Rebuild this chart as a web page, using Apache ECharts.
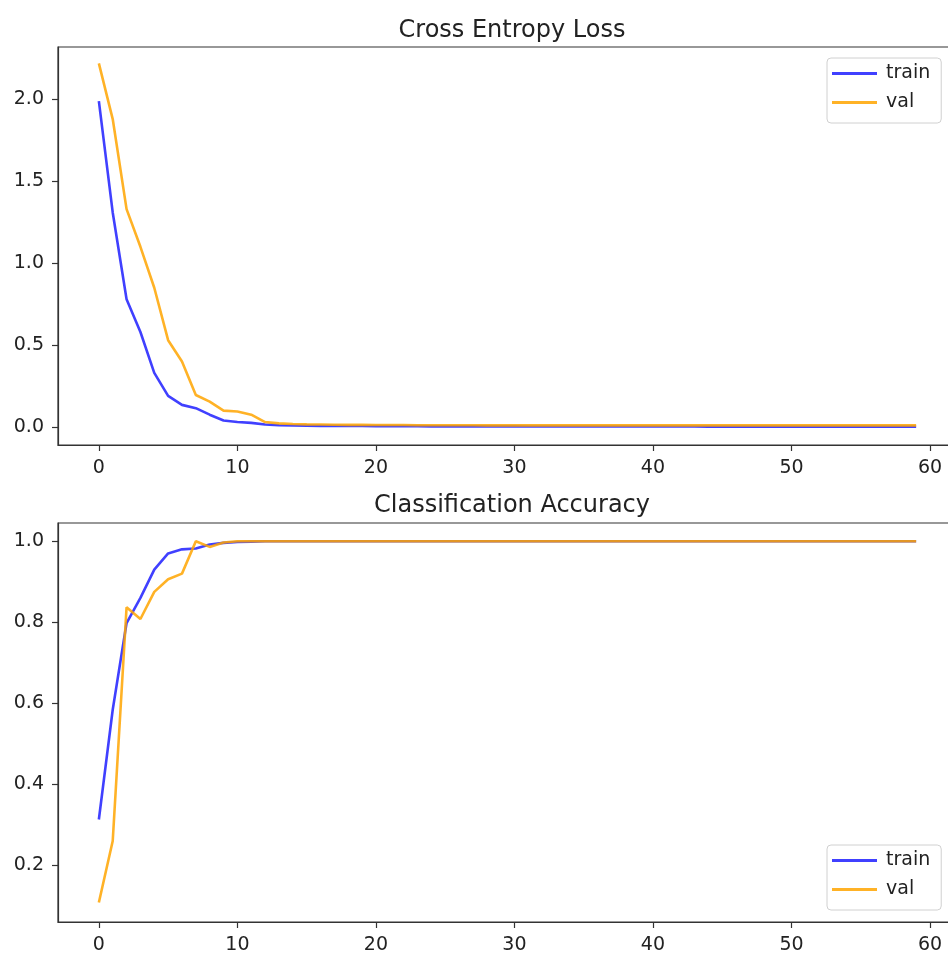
<!DOCTYPE html>
<html>
<head>
<meta charset="utf-8">
<script src="https://cdn.jsdelivr.net/npm/echarts@6/dist/echarts.min.js"></script>
<style>
  html, body { margin: 0; padding: 0; background: #fff; }
  #chart { width: 948px; height: 958px; }
</style>
</head>
<body>
<div id="chart"></div>
<script>
// epochs 0..59
var epochs = [];
for (var e = 0; e < 60; e++) epochs.push(e);

var xTicks = [0, 10, 20, 30, 40, 50, 60];
var lossTicks = [0, 0.5, 1.0, 1.5, 2.0];
var accTicks = [0.2, 0.4, 0.6, 0.8, 1.0];

var trainLoss = [
    1.99, 1.31, 0.78, 0.58, 0.33, 0.19, 0.135, 0.115, 0.075, 0.04,
    0.03, 0.025, 0.015, 0.011, 0.009, 0.008, 0.007, 0.007, 0.006, 0.006,
    0.005, 0.005, 0.005, 0.005, 0.004, 0.004, 0.004, 0.004, 0.004, 0.004,
    0.004, 0.003, 0.003, 0.003, 0.003, 0.003, 0.003, 0.003, 0.003, 0.003,
    0.003, 0.003, 0.003, 0.003, 0.002, 0.002, 0.002, 0.002, 0.002, 0.002,
    0.002, 0.002, 0.002, 0.002, 0.002, 0.002, 0.002, 0.002, 0.002, 0.002
];
var valLoss = [
    2.22, 1.88, 1.33, 1.10, 0.85, 0.53, 0.40, 0.195, 0.155, 0.10,
    0.095, 0.075, 0.03, 0.022, 0.018, 0.016, 0.015, 0.014, 0.013, 0.013,
    0.012, 0.012, 0.012, 0.011, 0.011, 0.011, 0.011, 0.011, 0.010, 0.010,
    0.010, 0.010, 0.010, 0.010, 0.010, 0.010, 0.010, 0.010, 0.010, 0.010,
    0.010, 0.010, 0.010, 0.010, 0.010, 0.010, 0.010, 0.010, 0.010, 0.010,
    0.010, 0.010, 0.010, 0.010, 0.010, 0.010, 0.010, 0.010, 0.010, 0.010
];
var trainAcc = [
    0.313, 0.584, 0.798, 0.86, 0.93, 0.97, 0.98, 0.982, 0.992, 0.996,
    0.998, 0.999, 1, 1, 1, 1, 1, 1, 1, 1,
    1, 1, 1, 1, 1, 1, 1, 1, 1, 1,
    1, 1, 1, 1, 1, 1, 1, 1, 1, 1,
    1, 1, 1, 1, 1, 1, 1, 1, 1, 1,
    1, 1, 1, 1, 1, 1, 1, 1, 1, 1
];
var valAcc = [
    0.108, 0.26, 0.837, 0.808, 0.875, 0.906, 0.92, 1.0, 0.986, 0.997,
    1, 1, 1, 1, 1, 1, 1, 1, 1, 1,
    1, 1, 1, 1, 1, 1, 1, 1, 1, 1,
    1, 1, 1, 1, 1, 1, 1, 1, 1, 1,
    1, 1, 1, 1, 1, 1, 1, 1, 1, 1,
    1, 1, 1, 1, 1, 1, 1, 1, 1, 1
];

var FONT = 'DejaVu Sans';
var BLUE = 'rgba(0, 0, 255, 0.75)';
var ORANGE = 'rgba(255, 165, 0, 0.85)';

function pairs(vals) {
    return epochs.map(function (x, i) { return [x, vals[i]]; });
}

function xAxisFor(gridIndex) {
    return {
        type: 'value', gridIndex: gridIndex, min: -2.95, max: 61.95,
        axisLine: { show: true, onZero: false, lineStyle: { color: '#333', width: 1.2 } },
        axisTick: { show: true, length: 6, customValues: xTicks, lineStyle: { color: '#333', width: 1.2 } },
        axisLabel: { customValues: xTicks, margin: 14, fontFamily: FONT, fontSize: 19, color: '#222' },
        splitLine: { show: false }
    };
}

function yAxisFor(gridIndex, min, max, ticks) {
    return {
        type: 'value', gridIndex: gridIndex, min: min, max: max,
        axisLine: { show: true, onZero: false, lineStyle: { color: '#333', width: 1.2 } },
        axisTick: { show: true, length: 6, customValues: ticks, lineStyle: { color: '#333', width: 1.2 } },
        axisLabel: {
            customValues: ticks, margin: 14, fontFamily: FONT, fontSize: 19, color: '#222',
            formatter: function (v) { return v.toFixed(1); }
        },
        splitLine: { show: false }
    };
}

function legendAt(top) {
    return {
        data: ['train', 'val'], orient: 'vertical', left: 827, top: top,
        icon: 'rect', itemWidth: 45, itemHeight: 3, itemGap: 10,
        padding: [6, 11, 11, 5],
        backgroundColor: 'rgba(255,255,255,0.8)', borderColor: '#d0d0d0', borderWidth: 1, borderRadius: 4,
        textStyle: { fontFamily: FONT, fontSize: 19, color: '#222', padding: [0, 0, 0, 4] }
    };
}

function lineSeries(name, vals, color, axisIndex) {
    return {
        name: name, type: 'line', xAxisIndex: axisIndex, yAxisIndex: axisIndex,
        data: pairs(vals), showSymbol: false, symbol: 'none',
        color: color, lineStyle: { color: color, width: 2.6 },
        animation: false
    };
}

var option = {
    animation: false,
    title: [
        { text: 'Cross Entropy Loss', left: 507, top: 14, textAlign: 'center',
          textStyle: { fontFamily: FONT, fontSize: 24, fontWeight: 'normal', color: '#222' } },
        { text: 'Classification Accuracy', left: 507, top: 489, textAlign: 'center',
          textStyle: { fontFamily: FONT, fontSize: 24, fontWeight: 'normal', color: '#222' } }
    ],
    grid: [
        { left: 58, top: 47, width: 899, height: 398, outerBoundsMode: 'none',
          show: true, borderColor: '#333', borderWidth: 1.2 },
        { left: 58, top: 523, width: 899, height: 399, outerBoundsMode: 'none',
          show: true, borderColor: '#333', borderWidth: 1.2 }
    ],
    legend: [legendAt(58), legendAt(845)],
    xAxis: [xAxisFor(0), xAxisFor(1)],
    yAxis: [
        yAxisFor(0, -0.11, 2.32, lossTicks),
        yAxisFor(1, 0.06, 1.045, accTicks)
    ],
    series: [
        lineSeries('train', trainLoss, BLUE, 0),
        lineSeries('val', valLoss, ORANGE, 0),
        lineSeries('train', trainAcc, BLUE, 1),
        lineSeries('val', valAcc, ORANGE, 1)
    ]
};

var chart = echarts.init(document.getElementById('chart'));
chart.setOption(option);
</script>
</body>
</html>
